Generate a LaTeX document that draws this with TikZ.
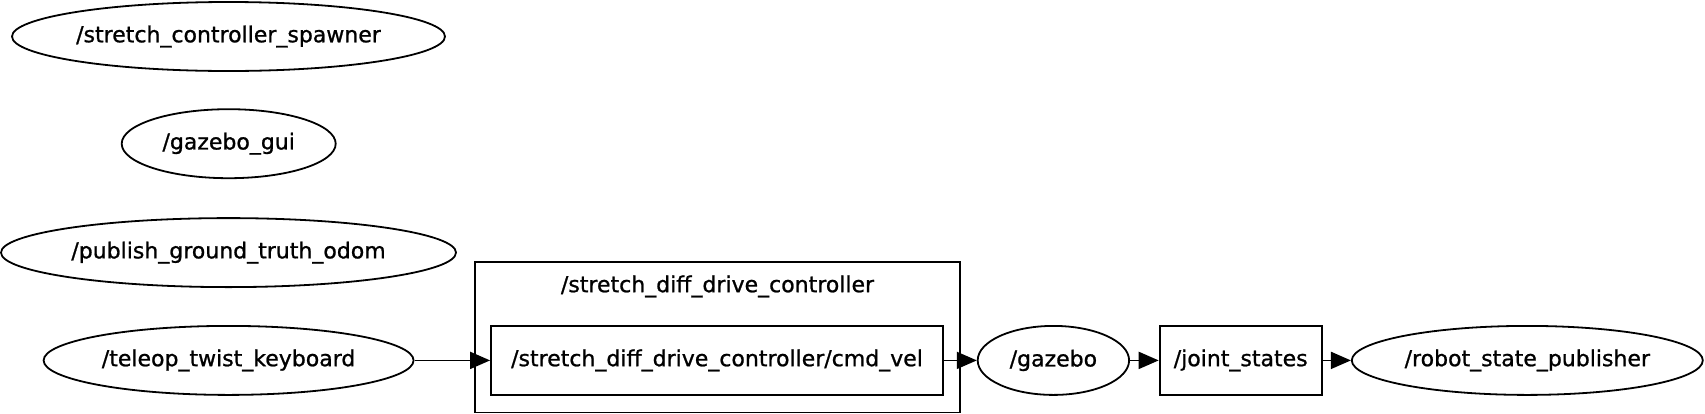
\documentclass[tikz,border=0pt]{standalone}
\usepackage{fontspec}
\setmainfont{DejaVu Sans}[FakeBold=1]
\usetikzlibrary{shapes.geometric,arrows.meta,positioning}

\begin{document}
\begin{tikzpicture}[x=1pt, y=-1pt, line width=1.8pt,
            font=\fontsize{22}{26}\selectfont,
            rosnode/.style={draw, ellipse, inner sep=0pt, minimum height=69pt},
            rostopic/.style={draw, rectangle, inner sep=0pt, minimum height=69pt},
            >={Triangle[length=20pt,width=17pt]}]
            \useasboundingbox (0,0) rectangle (1705,413);

            % nodes without connections
            \node[rosnode, minimum width=433pt] (spawner) at (228.5,36.5) {/stretch\_controller\_spawner};
            \node[rosnode, minimum width=214pt] (gui) at (228.7,143.7) {/gazebo\_gui};
            \node[rosnode, minimum width=455pt] (odom) at (228.5,252.6) {/publish\_ground\_truth\_odom};

            % namespace box
            \node[draw, minimum width=485.6pt, minimum height=150.5pt] (ctrl) at (717.5,337.3) {};
            \node (ctrllabel) at (717.5,286.4) {/stretch\_diff\_drive\_controller};

            % main chain
            \node[rosnode, minimum width=370pt] (teleop) at (228.6,360.4) {/teleop\_twist\_keyboard};
            \node[rostopic, minimum width=452pt] (cmdvel) at (717,360.4) {/stretch\_diff\_drive\_controller/cmd\_vel};
            \node[rosnode, minimum width=151.4pt] (gazebo) at (1053.4,360.4) {/gazebo};
            \node[rostopic, minimum width=162.2pt] (joints) at (1240.7,360.4) {/joint\_states};
            \node[rosnode, minimum width=351pt] (rsp) at (1527.3,360.4) {/robot\_state\_publisher};

            \draw[->] (teleop) -- (cmdvel);
            \draw[->] (cmdvel) -- (gazebo);
            \draw[->] (gazebo) -- (joints);
            \draw[->] (joints) -- (rsp);
        \end{tikzpicture}
\end{document}
